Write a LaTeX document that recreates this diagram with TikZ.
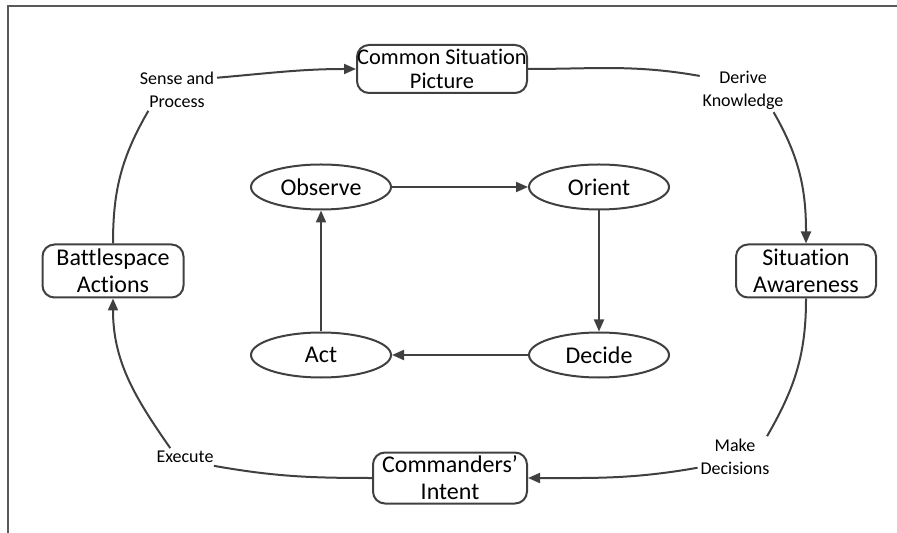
\documentclass[tikz,border=0pt]{standalone}
\usepackage{fontspec}
\setmainfont{Carlito}[Ligatures=NoCommon]
\usepackage{tikz}
\usetikzlibrary{positioning}
\usetikzlibrary{arrows.meta}
\usetikzlibrary{shapes.geometric}
\colorlet{linegray}{black!75}
\tikzset{box node/.style={draw=linegray,line width=1pt,rounded corners=6pt,align=center,
           inner xsep=2pt,inner ysep=1pt,minimum height=26.5pt,font=\fontsize{12}{13.5}\selectfont},
         oval node/.style={ellipse,draw=linegray,line width=1pt,minimum width=70pt,
           minimum height=22.5pt,inner sep=0pt,font=\fontsize{12}{14}\selectfont},
         step label/.style={align=center,inner sep=1pt,font=\fontsize{9}{11.5}\selectfont},}

\begin{document}
\begin{tikzpicture}[x=0.5pt,y=-0.5pt,on grid,line width=1pt,
    -{Triangle[length=6pt,width=5pt]},draw=linegray]
    \useasboundingbox (0,0) rectangle (897,533);
    \draw[-,draw=black!65] (897,6) -- (8,6) -- (8,533);

    % OODA loop
    \node[oval node] (obs) at (321,187) {Observe};
    \node[oval node] (orient) [right = 139pt of obs] {Orient};
    \node[oval node] (decide) [below = 84pt of orient] {Decide};
    \node[oval node] (act) [below = 84pt of obs] {Act};

    % outer cycle
    \node[box node,minimum width=85pt,minimum height=24pt,inner xsep=0pt,inner ysep=0pt,
      font=\fontsize{11.2}{11.8}\selectfont]
      (csp) [above right = 59pt and 60.5pt of obs] {Common Situation\\Picture};
    \node[box node,minimum width=70pt] (sa) [below right = 42pt and 103.5pt of orient] {Situation\\Awareness};
    \node[box node,minimum width=70.5pt] (ba) [below left = 42pt and 104pt of obs] {Battlespace\\Actions};
    \node[box node,minimum width=77pt,minimum height=25.5pt] (ci) [below right = 61.5pt and 64.5pt of act] {Commanders’\\Intent};

    \node[step label] (sense) at (177,90) {Sense and\\Process};
    \node[step label] (derive) at (743,90) {Derive\\Knowledge};
    \node[step label] (decisions) at (735,457) {Make\\Decisions};
    \node[step label] (execute) at (185,457) {Execute};

    \path[draw]
    (obs) edge (orient)
    (orient) edge (decide)
    (decide) edge (act)
    (act) edge (obs);

    \draw[-] (ba.north) to[out=90,in=240] (sense.216);
    \draw (sense.17) to[out=5,in=180] (csp.west);
    \draw[-] (csp.east) to[out=0,in=170] (derive.162);
    \draw (derive.-36) to[out=-60,in=90] (sa.north);
    \draw[-] (sa.south) to[out=-90,in=60] (decisions.33);
    \draw (decisions.196) to[out=190,in=0] (ci.east);
    \draw[-] (ci.west) to[out=180,in=-10] (execute.-17);
    \draw (execute.149) to[out=125,in=-90] (ba.south);
\end{tikzpicture}
\end{document}
